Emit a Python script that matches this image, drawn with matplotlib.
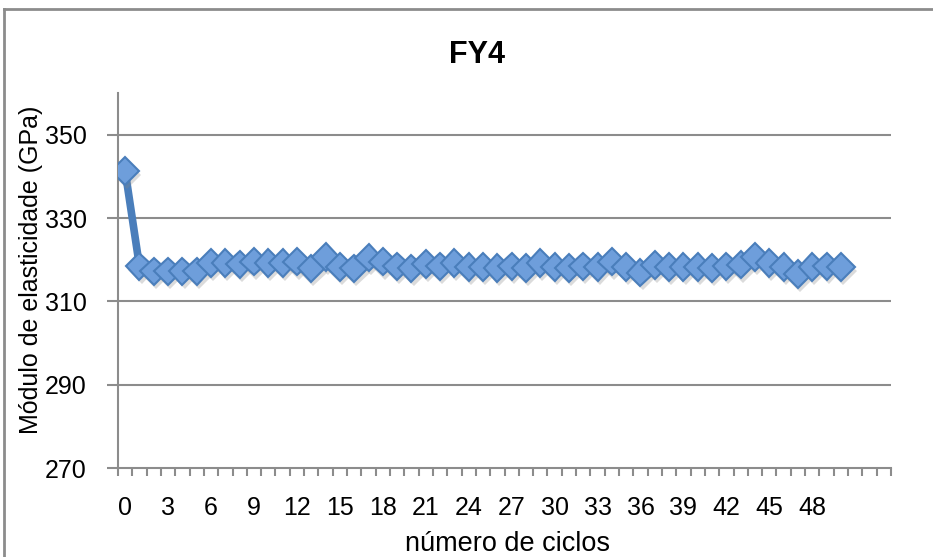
import matplotlib
matplotlib.use("Agg")
import matplotlib.pyplot as plt
import matplotlib.patheffects as pe
from matplotlib.lines import Line2D

plt.rcParams['font.family'] = ['Liberation Sans', 'DejaVu Sans']

# Data
cycles = list(range(51))
modulus = [341.3, 318.4, 317.2, 317.2, 317.2, 317.2, 319.2, 319.2, 318.9, 319.5,
           319.2, 319.2, 319.5, 317.9, 320.6, 318.2, 317.9, 320.5, 319.5, 318.4,
           317.9, 319.0, 318.4, 319.2, 318.2, 318.2, 318.0, 318.4, 318.0, 319.2,
           318.2, 318.0, 318.4, 318.2, 319.5, 318.2, 316.9, 318.7, 318.2, 318.2,
           318.2, 318.0, 318.4, 318.8, 320.6, 319.2, 318.2, 316.6, 318.2, 318.4,
           318.2]
n_categories = 54
tick_labels = [str(c) for c in range(0, 49, 3)]
y_ticks = [270, 290, 310, 330, 350]

W, H = 933, 557
fig = plt.figure(figsize=(W / 100, H / 100), dpi=100)
ax = fig.add_axes([118 / W, 1 - 468 / H, (891 - 118) / W, (468 - 93) / H])

# connecting line
ax.plot(cycles, modulus, color='#4A7EBB', linewidth=5.5, solid_joinstyle='round',
        solid_capstyle='round', zorder=3)
# diamond markers with soft shadow
ax.plot(cycles, modulus, linestyle='none', marker='D', markersize=14,
        markerfacecolor='#6E9EDB', markeredgecolor='#4A7EBB', markeredgewidth=1.5,
        zorder=4,
        path_effects=[pe.SimplePatchShadow(offset=(1.5, -3), shadow_rgbFace='#888888', alpha=0.3),
                      pe.Normal()])

ax.set_xlim(-0.5, n_categories - 0.5)
ax.set_ylim(270, 360)

ax.set_yticks(y_ticks)
ax.set_yticklabels([str(v) for v in y_ticks])
for v in y_ticks[1:]:
    ax.axhline(v, color='#8C8C8C', linewidth=1.5, zorder=1)

ax.set_xticks([x - 0.5 for x in range(n_categories + 1)], minor=True)
ax.set_xticks(range(0, 49, 3))
ax.set_xticklabels(tick_labels)
ax.tick_params(axis='x', which='major', length=0, pad=20, labelsize=18)
ax.tick_params(axis='x', which='minor', length=6, width=1.5, color='#8C8C8C', direction='out')
ax.tick_params(axis='y', which='major', length=8, width=1.5, color='#8C8C8C', pad=14.5, labelsize=18)

for s in ['top', 'right']:
    ax.spines[s].set_visible(False)
for s in ['left', 'bottom']:
    ax.spines[s].set_color('#8C8C8C')
    ax.spines[s].set_linewidth(1.5)

fig.text(477 / W, 1 - 55 / H, 'FY4', ha='center', va='center', fontsize=22, fontweight='bold')
fig.text(31 / W, 1 - 270 / H, 'Módulo de elasticidade (GPa)', ha='center', va='center',
         rotation=90, fontsize=18)
fig.text(508 / W, 1 - 544 / H, 'número de ciclos', ha='center', va='center', fontsize=19.5)

# chart frame (left and top edges visible)
fig.add_artist(Line2D([4 / W, 4 / W], [0, 1 - 9 / H], transform=fig.transFigure, color='#8C8C8C', linewidth=2))
fig.add_artist(Line2D([4 / W, 1], [1 - 9 / H, 1 - 9 / H], transform=fig.transFigure, color='#8C8C8C', linewidth=2))

fig.savefig('out.png', dpi=100)
